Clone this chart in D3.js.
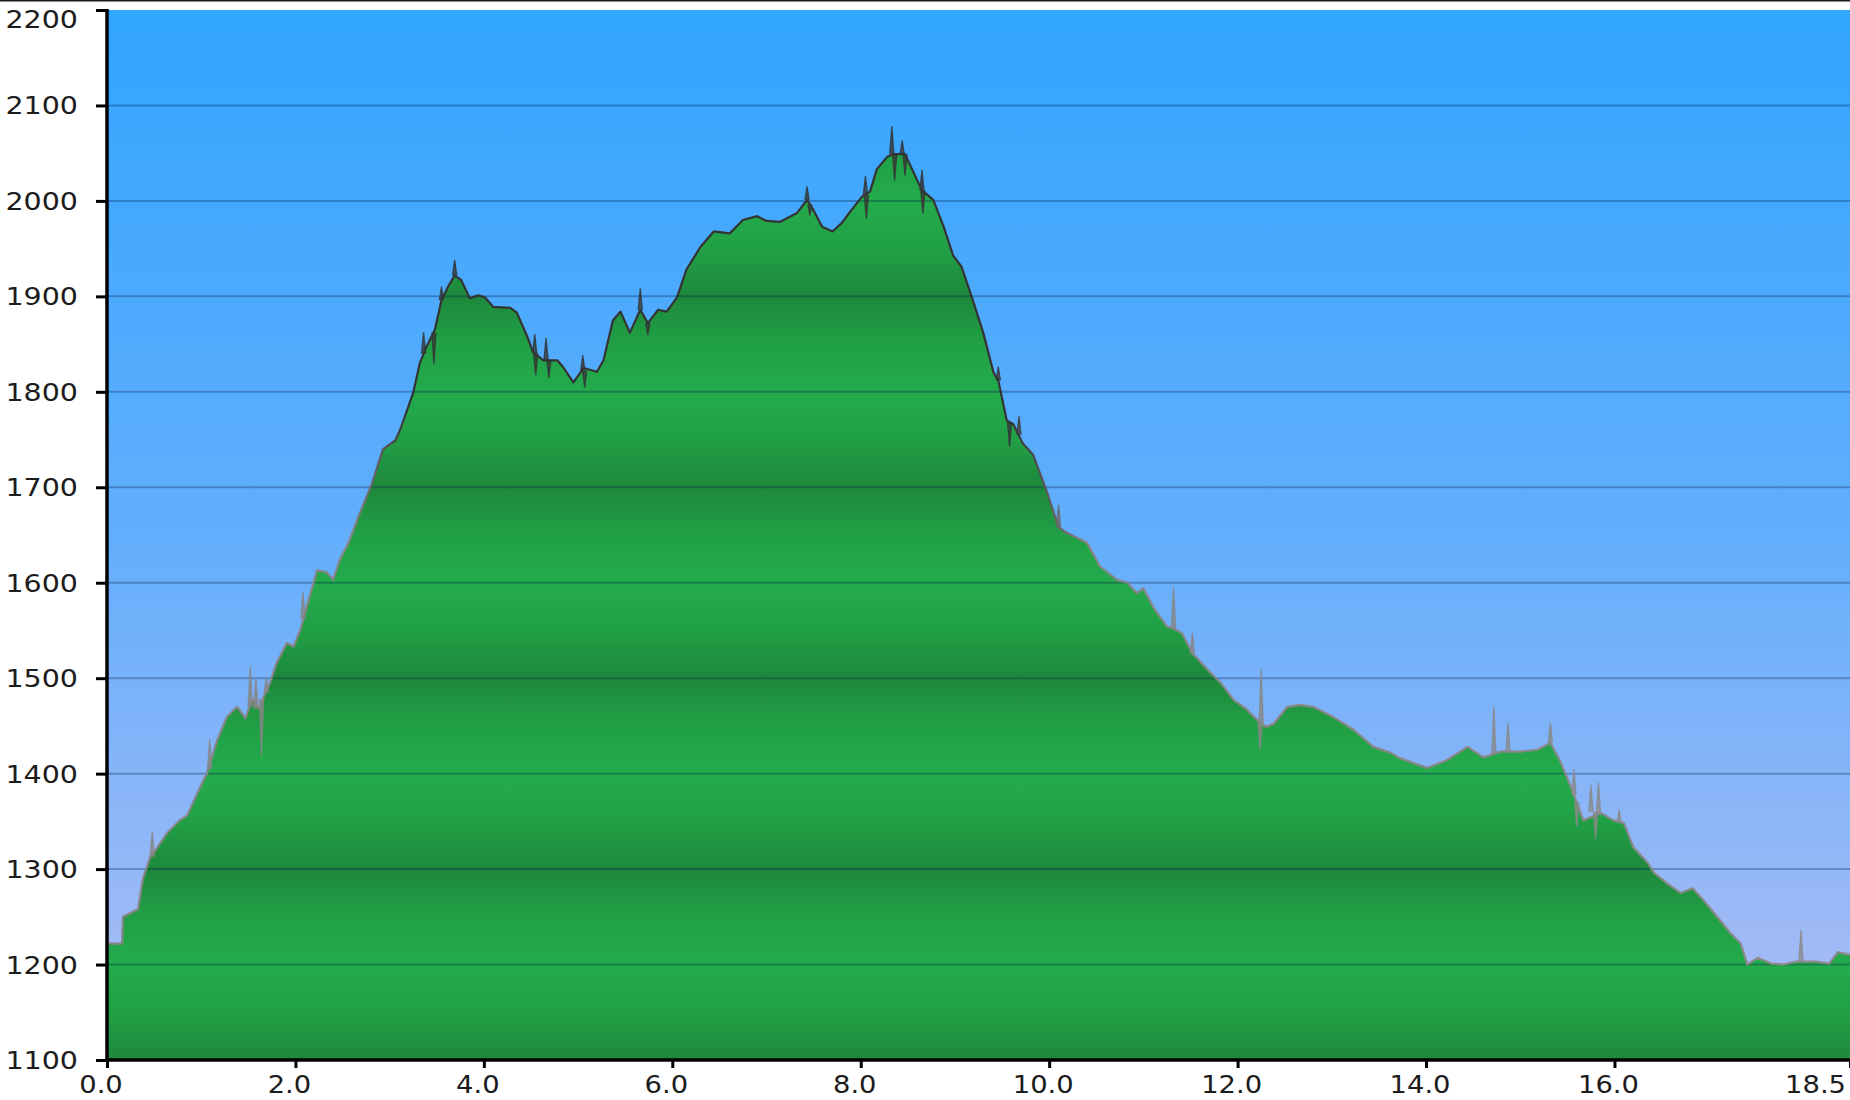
<!DOCTYPE html>
<html>
<head>
<meta charset="utf-8">
<script src="https://cdn.jsdelivr.net/npm/d3@7"></script>
<style>
html,body{margin:0;padding:0;background:#fff;}
svg{display:block;}
</style>
</head>
<body>
<svg id="chart" width="1850" height="1100"></svg>
<script>
// ---- data (distance in km, elevation in m) ----
const distances = [0.00,0.16,0.17,0.33,0.38,0.46,0.53,0.64,0.77,0.85,0.99,1.06,1.17,1.27,1.38,1.47,1.54,1.62,1.66,1.73,1.80,1.91,1.98,2.05,2.12,2.23,2.33,2.40,2.47,2.56,2.68,2.81,2.93,3.06,3.11,3.25,3.32,3.39,3.48,3.55,3.62,3.69,3.76,3.85,3.94,4.01,4.10,4.28,4.35,4.46,4.52,4.63,4.78,4.84,4.95,5.06,5.20,5.27,5.37,5.45,5.55,5.66,5.74,5.85,5.94,6.05,6.15,6.30,6.44,6.61,6.75,6.90,7.00,7.14,7.32,7.43,7.50,7.59,7.70,7.80,7.89,8.01,8.10,8.17,8.28,8.34,8.47,8.56,8.65,8.77,8.88,8.98,9.07,9.18,9.30,9.41,9.46,9.55,9.62,9.72,9.83,9.98,10.10,10.19,10.40,10.54,10.72,10.83,10.93,11.00,11.10,11.25,11.32,11.41,11.52,11.68,11.82,11.96,12.10,12.21,12.30,12.38,12.53,12.66,12.80,13.02,13.23,13.44,13.62,13.73,14.01,14.22,14.44,14.61,14.79,15.00,15.18,15.32,15.42,15.55,15.67,15.85,15.99,16.10,16.20,16.35,16.42,16.56,16.70,16.83,16.94,17.09,17.23,17.34,17.41,17.52,17.66,17.80,17.92,18.14,18.28,18.37,18.50];
const elevations = [1222,1222,1250,1258,1289,1313,1322,1338,1351,1356,1386,1400,1435,1459,1470,1458,1478,1468,1480,1495,1516,1537,1533,1550,1575,1613,1611,1603,1624,1641,1672,1703,1740,1749,1760,1799,1830,1847,1865,1896,1910,1922,1917,1898,1901,1899,1889,1888,1883,1858,1842,1833,1833,1826,1810,1825,1821,1833,1875,1884,1862,1886,1872,1886,1884,1899,1928,1952,1968,1966,1980,1984,1979,1978,1987,2001,1990,1973,1968,1977,1989,2004,2010,2033,2046,2049,2049,2030,2011,2001,1973,1943,1931,1899,1862,1820,1812,1770,1766,1746,1734,1694,1658,1652,1642,1617,1603,1600,1589,1594,1575,1554,1552,1547,1526,1509,1495,1477,1467,1456,1449,1452,1470,1472,1470,1459,1446,1428,1422,1416,1406,1414,1428,1417,1423,1423,1425,1432,1414,1383,1351,1359,1351,1348,1323,1307,1296,1285,1275,1280,1268,1250,1233,1222,1200,1207,1201,1200,1203,1203,1201,1213,1210];

// raw GPS noise spikes: distance, elevation of the profile there, elevation of the spike tip
const spikeDist = [0.48,1.09,1.52,1.58,1.64,1.69,2.08,3.36,3.47,3.55,3.69,4.54,4.55,4.66,4.69,5.05,5.07,5.66,5.74,7.43,7.46,8.05,8.06,8.33,8.36,8.44,8.47,8.65,8.66,9.46,9.58,9.68,10.10,11.32,11.52,12.24,12.25,14.72,14.87,15.32,15.57,15.60,15.75,15.80,15.83,16.05,17.98];
const spikeBase = [1313,1405,1470,1468,1478,1485,1562,1840,1862,1896,1922,1840,1840,1833,1833,1822,1822,1886,1872,2001,1996,2006,2006,2049,2049,2049,2049,2011,2011,1812,1768,1755,1658,1552,1526,1454,1452,1420,1423,1432,1378,1370,1360,1360,1358,1349,1203];
const spikeTip  = [1338,1435,1512,1500,1419,1500,1590,1862,1830,1910,1938,1860,1818,1856,1815,1838,1805,1908,1860,2015,1985,2026,1982,2078,2022,2063,2027,2032,1987,1826,1743,1774,1681,1595,1547,1425,1509,1470,1453,1453,1404,1345,1388,1332,1390,1362,1236];

const yTicks = [1100,1200,1300,1400,1500,1600,1700,1800,1900,2000,2100,2200];
const xTicks = [0,2,4,6,8,10,12,14,16,18.5];
const xTickLabels = ["0.0","2.0","4.0","6.0","8.0","10.0","12.0","14.0","16.0","18.5"];

(function(){
// ---- layout ----
const W = 1850, H = 1100;
const pL = 107, pR = 1850, pT = 10, pB = 1060;

const svg = d3.select("#chart");
const x = d3.scaleLinear().domain([0, 18.5]).range([pL, pR]);
const y = d3.scaleLinear().domain([1100, 2200]).range([pB, pT]);

const defs = svg.append("defs");

// sky gradient
const sky = defs.append("linearGradient").attr("id","sky")
  .attr("gradientUnits","userSpaceOnUse")
  .attr("x1",0).attr("x2",0).attr("y1",y(2200)).attr("y2",y(1100));
sky.append("stop").attr("offset","0").attr("stop-color","#31a5ff");
sky.append("stop").attr("offset","0.5").attr("stop-color","#63aefc");
sky.append("stop").attr("offset","1").attr("stop-color","#b0bdf4");

// banded green gradient (reflecting every 100 m)
const grn = defs.append("linearGradient").attr("id","grn")
  .attr("gradientUnits","userSpaceOnUse")
  .attr("spreadMethod","reflect")
  .attr("x1",0).attr("x2",0).attr("y1",y(1100)).attr("y2",y(1200));
grn.append("stop").attr("offset","0").attr("stop-color","#1e883c");
grn.append("stop").attr("offset","0.5").attr("stop-color","#21a046");
grn.append("stop").attr("offset","1").attr("stop-color","#23ab4c");

// stroke colour along distance
const lg = defs.append("linearGradient").attr("id","lineGrad")
  .attr("gradientUnits","userSpaceOnUse")
  .attr("x1",x(0)).attr("x2",x(18.5)).attr("y1",0).attr("y2",0);
[[0,"#858585"],[2.6,"#858585"],[3.2,"#333333"],[9.6,"#333333"],[10.4,"#858585"],[18.5,"#8a8a8a"]]
  .forEach(s => lg.append("stop").attr("offset", s[0]/18.5).attr("stop-color", s[1]));

// top border line
svg.append("rect").attr("x",0).attr("y",0).attr("width",W).attr("height",1.5).attr("fill","#1a1a1a");

// plot background
svg.append("rect").attr("x",pL).attr("y",pT).attr("width",pR-pL).attr("height",pB-pT).attr("fill","url(#sky)");

const pts = distances.map((d,i)=>[d, elevations[i]]);

// area
const area = d3.area().x(p=>x(p[0])).y0(y(1100)).y1(p=>y(p[1]));
svg.append("path").datum(pts).attr("d",area).attr("fill","url(#grn)");

// grid lines
svg.append("g").selectAll("line").data(yTicks.filter(t=>t>1100 && t<2200)).join("line")
  .attr("x1",pL).attr("x2",pR).attr("y1",d=>y(d)).attr("y2",d=>y(d))
  .attr("stroke","rgba(0,25,70,0.30)").attr("stroke-width",2);

// spikes
const spikeLine = d3.line().x(p=>x(p[0])).y(p=>y(p[1]));
const w = 0.022;
svg.append("g").selectAll("path").data(spikeDist.map((d,i)=>[[d-w, spikeBase[i]],[d, spikeTip[i]],[d+w, spikeBase[i]]])).join("path")
  .attr("d", spikeLine)
  .attr("fill","url(#lineGrad)").attr("fill-opacity",0.75)
  .attr("stroke","url(#lineGrad)").attr("stroke-width",1.4).attr("stroke-opacity",0.8)
  .attr("stroke-linejoin","round");

// profile line
const line = d3.line().x(p=>x(p[0])).y(p=>y(p[1]));
svg.append("path").datum(pts).attr("d",line).attr("fill","none")
  .attr("stroke","url(#lineGrad)").attr("stroke-width",2.2).attr("stroke-linejoin","round");

// axes
const yAxis = d3.axisLeft(y).tickValues(yTicks).tickSize(11).tickFormat("");
const gy = svg.append("g").attr("transform",`translate(${pL},0)`).call(yAxis);
gy.select(".domain").remove();
gy.selectAll(".tick line").attr("stroke","#000").attr("stroke-width",3);

const xAxis = d3.axisBottom(x).tickValues(xTicks).tickSize(8).tickFormat("");
const gx = svg.append("g").attr("transform",`translate(0,${pB})`).call(xAxis);
gx.select(".domain").remove();
gx.selectAll(".tick line").attr("stroke","#000").attr("stroke-width",3);

svg.append("line").attr("x1",pL).attr("x2",pL).attr("y1",pT-1).attr("y2",pB+1.5)
  .attr("stroke","#000").attr("stroke-width",3.5);
svg.append("line").attr("x1",pL-1.5).attr("x2",pR).attr("y1",pB).attr("y2",pB)
  .attr("stroke","#000").attr("stroke-width",3.5);

// labels
const sx = 1.14;
svg.append("g").selectAll("g").data(yTicks).join("g")
  .attr("transform", d => `translate(78,${d===2200 ? y(d)+18 : y(d)+9}) scale(${sx},1)`)
  .append("text").attr("text-anchor","end")
  .attr("font-family","'DejaVu Sans', Verdana, sans-serif").attr("font-size",25)
  .attr("fill","#1c1c1c").text(d=>d);

svg.append("g").selectAll("g").data(xTicks).join("g")
  .attr("transform", (d,i) => i===xTicks.length-1 ? `translate(1846,1093) scale(${sx},1)` : `translate(${x(d)-6},1093) scale(${sx},1)`)
  .append("text").attr("text-anchor",(d,i)=> i===xTicks.length-1 ? "end" : "middle")
  .attr("font-family","'DejaVu Sans', Verdana, sans-serif").attr("font-size",24)
  .attr("fill","#1c1c1c").text((d,i)=>xTickLabels[i]);
})();
</script>
</body>
</html>
